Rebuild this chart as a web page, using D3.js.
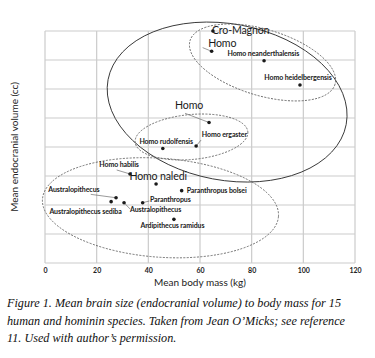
<!DOCTYPE html>
<html>
<head>
<meta charset="utf-8">
<script src="https://cdn.jsdelivr.net/npm/d3@7"></script>
<style>
  html, body { margin: 0; padding: 0; background: #fff; }
  svg { display: block; }
</style>
</head>
<body>
<svg id="chart" width="375" height="358"></svg>
<script>
// ---------------- data ----------------
const species = [
  "Cro-Magnon", "Homo", "Homo neanderthalensis", "Homo heidelbergensis",
  "Homo", "Homo ergaster", "Homo rudolfensis", "Homo habilis", "Homo naledi",
  "Paranthropus bolsei", "Australopithecus", "Australopithecus sediba",
  "Australopithecus", "Paranthropus", "Ardipithecus ramidus"
];
const bodyMass = [65, 64.5, 84.8, 98.7, 63.5, 58.5, 45.6, 32.9, 43.0, 52.9, 27.5, 25.6, 30.6, 37.8, 49.9];
const brainVolume = [1600, 1460, 1395, 1228, 969, 807, 790, 614, 545, 499, 450, 423, 416, 416, 301];

const xTicks = [0, 20, 40, 60, 80, 100, 120];
const yTicks = [0, 200, 400, 600, 800, 1000, 1200, 1400, 1600];

// group ellipses (data units: centre kg / cc, semi-axes kg / cc, tilt degrees)
const ellipseCx = [70.5, 84.2, 56.7, 44.7];
const ellipseCy = [1110, 1383, 869, 381];
const ellipseRx = [46.9, 29.3, 21.9, 45.8];
const ellipseRy = [539, 228, 155, 341];
const ellipseTilt = [10.65, 16.8, -5.3, 4.2];
const ellipseDashed = [false, true, true, true];

const xTitle = "Mean body mass (kg)";
const yTitle = "Mean endocranial volume (cc)";
const caption = [
  "Figure 1. Mean brain size (endocranial volume) to body mass for 15",
  "human and hominin species. Taken from Jean O\u2019Micks; see reference",
  "11. Used with author\u2019s permission."
];

// ---------------- label layout (offsets from the dot, px) ----------------
const labelLayout = [
  {anchor: "start",  dx: -1,    dy: 3.0,  big: true},
  {anchor: "start",  dx: -3.4,  dy: -4.6, big: true,  lead: [-9, -3.7]},
  {anchor: "middle", dx: -0.7,  dy: -4.9},
  {anchor: "middle", dx: -2,    dy: -5.2},
  {anchor: "middle", dx: -20,   dy: -13,  big: true,  lead: [-24, -9.2]},
  {anchor: "start",  dx: 5.7,   dy: -8.5, lead: [5, -6]},
  {anchor: "start",  dx: -23.4, dy: -4.3},
  {anchor: "start",  dx: -30.7, dy: -6.5, lead: [-13.3, -4]},
  {anchor: "start",  dx: -26.7, dy: -3.5, big: true},
  {anchor: "start",  dx: 5,     dy: 2.5},
  {anchor: "start",  dx: -67.7, dy: -5.9, lead: [-25.3, -3.4]},
  {anchor: "start",  dx: -61.7, dy: 12.5},
  {anchor: "start",  dx: 6,     dy: 9.8,  lead: [6, 6.3]},
  {anchor: "start",  dx: 7.3,   dy: -0.2, lead: [6.8, -1.7]},
  {anchor: "middle", dx: -1.5,  dy: 8.9}
];

// ---------------- drawing ----------------
const svg = d3.select("#chart");
const margin = {left: 45, right: 20, top: 31, bottom: 95};
const W = 375, H = 358;

const x = d3.scaleLinear().domain([0, 120]).range([margin.left, W - margin.right]);
const y = d3.scaleLinear().domain([0, 1600]).range([H - margin.bottom, margin.top]);

const sansFont = "Lato, 'Open Sans', sans-serif";

// grid
const grid = svg.append("g");
grid.selectAll("line.v").data(xTicks).join("line")
  .attr("x1", d => x(d)).attr("x2", d => x(d))
  .attr("y1", y(0)).attr("y2", y(1600))
  .attr("stroke", "#cbcbcb").attr("stroke-width", 1.2);
grid.selectAll("line.h").data(yTicks).join("line")
  .attr("y1", d => y(d)).attr("y2", d => y(d))
  .attr("x1", x(0)).attr("x2", x(120))
  .attr("stroke", "#cbcbcb").attr("stroke-width", 1.2);

// x axis labels
const xAxis = d3.axisBottom(x).tickValues(xTicks).tickSize(0).tickPadding(5).tickFormat(d3.format("d"));
const gx = svg.append("g").attr("transform", `translate(0,${y(0)})`).call(xAxis);
gx.select(".domain").remove();
gx.selectAll("text").attr("font-family", sansFont).attr("font-size", 7).attr("font-weight", 700).attr("fill", "#222");

// axis titles
svg.append("text").attr("x", (x(0) + x(120)) / 2).attr("y", 286)
  .attr("text-anchor", "middle").attr("font-family", sansFont).attr("font-size", 10).attr("fill", "#222")
  .text(xTitle);
svg.append("text").attr("transform", `translate(18,${(y(0) + y(1600)) / 2}) rotate(-90)`)
  .attr("text-anchor", "middle").attr("font-family", sansFont).attr("font-size", 10).attr("fill", "#222")
  .text(yTitle);

// ellipses
const ellipses = d3.range(ellipseCx.length).map(i => ({
  cx: ellipseCx[i], cy: ellipseCy[i], rx: ellipseRx[i], ry: ellipseRy[i],
  tilt: ellipseTilt[i], dashed: ellipseDashed[i]
}));
svg.append("g").selectAll("ellipse").data(ellipses).join("ellipse")
  .attr("cx", d => x(d.cx)).attr("cy", d => y(d.cy))
  .attr("rx", d => x(d.rx) - x(0)).attr("ry", d => y(0) - y(d.ry))
  .attr("transform", d => `rotate(${d.tilt},${x(d.cx)},${y(d.cy)})`)
  .attr("fill", "none")
  .attr("stroke", d => d.dashed ? "#555" : "#333")
  .attr("stroke-width", d => d.dashed ? 0.8 : 0.9)
  .attr("stroke-dasharray", d => d.dashed ? "2,1.4" : null);

// points
const pts = species.map((s, i) => ({name: s, m: bodyMass[i], v: brainVolume[i], L: labelLayout[i]}));

svg.append("g").selectAll("line").data(pts.filter(d => d.L.lead)).join("line")
  .attr("x1", d => x(d.m) + d.L.lead[0]).attr("y1", d => y(d.v) + d.L.lead[1])
  .attr("x2", d => x(d.m)).attr("y2", d => y(d.v))
  .attr("stroke", "#555").attr("stroke-width", 0.6);

svg.append("g").selectAll("circle").data(pts).join("circle")
  .attr("cx", d => x(d.m)).attr("cy", d => y(d.v)).attr("r", 1.8)
  .attr("fill", "#1a1a1a");

svg.append("g").selectAll("text").data(pts).join("text")
  .attr("x", d => x(d.m) + d.L.dx).attr("y", d => y(d.v) + d.L.dy)
  .attr("text-anchor", d => d.L.anchor)
  .attr("font-family", sansFont)
  .attr("font-size", d => d.L.big ? 10.6 : 7)
  .attr("font-weight", d => d.L.big ? 400 : 700)
  .attr("letter-spacing", d => d.L.big ? -0.15 : -0.1)
  .attr("fill", "#1a1a1a")
  .text(d => d.name);

// caption
svg.append("g").selectAll("text").data(caption).join("text")
  .attr("x", 7).attr("y", (d, i) => 307 + i * 17.5)
  .attr("font-family", "'Liberation Serif', 'DejaVu Serif', serif")
  .attr("font-style", "italic").attr("font-size", 12.2).attr("fill", "#111")
  .text(d => d);
</script>
</body>
</html>
